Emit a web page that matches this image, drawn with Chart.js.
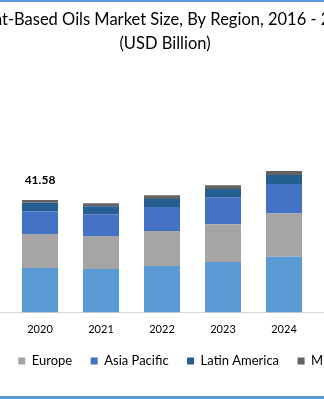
<!DOCTYPE html>
<html>
<head>
<meta charset="utf-8">
<script src="https://cdn.jsdelivr.net/npm/chart.js@4.4.1/dist/chart.umd.min.js"></script>
<style>
  html, body { margin: 0; padding: 0; background: #fff; }
  #frame { position: relative; width: 324px; height: 399px; overflow: hidden; background: #fff; }
  #stage { position: absolute; left: -201px; top: 0; width: 738px; height: 399px; }
  .rule { position: absolute; left: 0; width: 324px; background: #5b9bd5; }
</style>
</head>
<body>
<div id="frame">
  <div id="stage"><canvas id="chart"></canvas></div>
  <div class="rule" style="top:0;height:2px"></div>
  <div class="rule" style="top:396px;height:3px"></div>
</div>
<script>
// Market size by region, USD billion
const years = ['', '2020', '2021', '2022', '2023', '2024', ''];
const northAmerica = [null, 16.46, 16.08, 17.18, 18.65, 20.60, null];
const europe       = [null, 12.51, 12.14, 12.88, 13.98, 15.93, null];
const asiaPacific  = [null, 8.46, 8.09, 8.94, 9.93, 10.93, null];
const latinAmerica = [null, 3.05, 2.94, 2.94, 3.05, 3.31, null];
const middleEast   = [null, 1.10, 1.10, 1.36, 1.36, 1.47, null];
const labelledYear = '2020';

const titleLines = ['Plant-Based Oils Market Size, By Region, 2016 - 2025', '(USD Billion)'];

const series = [
  { label: 'North America', data: northAmerica, backgroundColor: '#5b9bd5' },
  { label: 'Europe', data: europe, backgroundColor: '#a5a5a5' },
  { label: 'Asia Pacific', data: asiaPacific, backgroundColor: '#4472c4' },
  { label: 'Latin America', data: latinAmerica, backgroundColor: '#255e91' },
  { label: 'Middle East & Africa', data: middleEast, backgroundColor: '#636363' }
];

// Writes the stacked total above the chosen year's bar
const totalLabel = {
  id: 'totalLabel',
  afterDatasetsDraw(chart) {
    const idx = chart.data.labels.indexOf(labelledYear);
    if (idx < 0) return;
    const total = chart.data.datasets.reduce((s, ds) => s + (ds.data[idx] || 0), 0);
    const last = chart.getDatasetMeta(chart.data.datasets.length - 1).data[idx];
    const ctx = chart.ctx;
    ctx.save();
    ctx.font = 'bold 12px Lato';
    ctx.fillStyle = '#000';
    ctx.textAlign = 'center';
    ctx.textBaseline = 'middle';
    ctx.fillText(total.toFixed(2), last.x, last.y - 20);
    ctx.restore();
  }
};

// Blank side gutters that hold the plot area in place
const gutter = (width, position) => ({
  type: 'linear',
  position,
  display: true,
  grid: { display: false },
  border: { display: false },
  ticks: { display: false },
  afterFit(scale) { scale.width = width; }
});

new Chart(document.getElementById('chart'), {
  type: 'bar',
  data: {
    labels: years,
    datasets: series.map(s => Object.assign({ barPercentage: 0.59, categoryPercentage: 1, borderWidth: 0 }, s))
  },
  options: {
    responsive: true,
    maintainAspectRatio: false,
    animation: false,
    layout: { padding: { left: 0, right: 6, top: 0, bottom: 21.5 } },
    plugins: {
      title: {
        display: true,
        text: titleLines,
        color: '#000',
        font: { family: 'Lato', size: 16.5, weight: 'normal', lineHeight: '24px' },
        padding: { top: 8, bottom: 94 }
      },
      legend: {
        position: 'bottom',
        labels: {
          color: '#000',
          font: { family: 'Lato', size: 13 },
          boxWidth: 7,
          boxHeight: 7,
          padding: 18.5
        }
      },
      tooltip: { enabled: false }
    },
    scales: {
      x: {
        stacked: true,
        grid: { display: false, drawTicks: false },
        border: { color: '#d9d9d9', width: 1 },
        ticks: { color: '#000', font: { family: 'Lato', size: 11 }, padding: 10 },
        afterFit(scale) { scale.height = 23.5; }
      },
      y: Object.assign(gutter(149.5, 'left'), { stacked: true, min: 0, max: 60 }),
      rightGutter: gutter(155.5, 'right')
    }
  },
  plugins: [totalLabel]
});
</script>
</body>
</html>
